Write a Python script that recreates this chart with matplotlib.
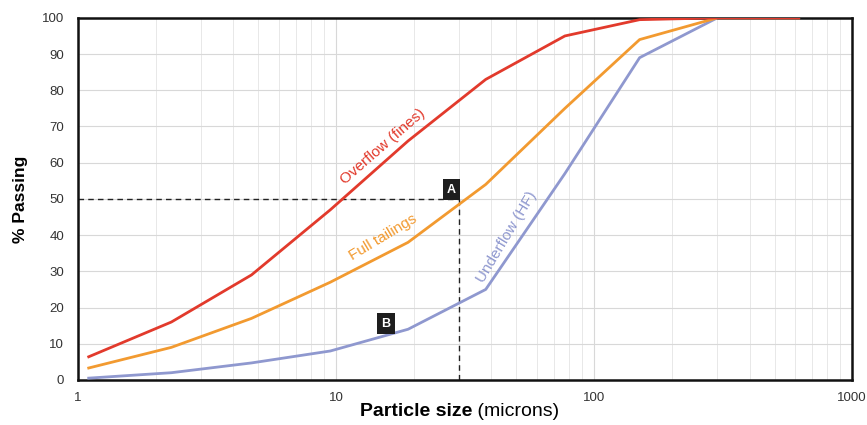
import matplotlib
matplotlib.use("Agg")
import matplotlib.pyplot as plt
from matplotlib.ticker import FixedLocator, NullFormatter, LogLocator

plt.rcParams['font.family'] = ['Liberation Sans', 'DejaVu Sans']

# particle sizes (microns)
sizes = [1.1, 2.3, 4.7, 9.5, 19, 38, 77, 150, 300, 620]
overflow = [6.4, 16, 29, 47, 66, 83, 95, 99.5, 100, 100]
full_tailings = [3.3, 9, 17, 27, 38, 54, 75, 94, 100, 100]
underflow = [0.5, 2, 4.7, 8, 14, 25, 57, 89, 100, 100]

x_ticks = [1, 10, 100, 1000]
x_tick_labels = ["1", "10", "100", "1000"]
y_ticks = [0, 10, 20, 30, 40, 50, 60, 70, 80, 90, 100]
d50_size = 30
d50_pass = 50

red = "#e23a2c"
orange = "#f29a30"
blue = "#8f98cf"

fig = plt.figure(figsize=(8.67, 4.25), dpi=100)
ax = fig.add_axes([0.090, 0.106, 0.893, 0.852])
ax.set_xscale("log")
ax.set_xlim(1, 1000)
ax.set_ylim(0, 100)

ax.xaxis.set_major_locator(FixedLocator(x_ticks))
ax.xaxis.set_minor_locator(LogLocator(base=10, subs=range(2, 10)))
ax.xaxis.set_minor_formatter(NullFormatter())
ax.set_xticklabels(x_tick_labels)
ax.set_yticks(y_ticks)
ax.grid(True, which="major", color="#d8d8d8", lw=0.8)
ax.grid(True, which="minor", axis="x", color="#e8e8e8", lw=0.7)
ax.tick_params(which="both", length=0, colors="#333333", labelsize=9.5)
ax.tick_params(axis="x", pad=9)
ax.tick_params(axis="y", pad=10)
for s in ax.spines.values():
    s.set_linewidth(1.8)
    s.set_color("#111111")

ax.plot(sizes, underflow, color=blue, lw=2, zorder=3)
ax.plot(sizes, full_tailings, color=orange, lw=2, zorder=4)
ax.plot(sizes, overflow, color=red, lw=2, zorder=5)

ax.plot([1, d50_size], [d50_pass, d50_pass], ls=(0, (4, 3)), color="#222222", lw=1, zorder=2)
ax.plot([d50_size, d50_size], [0, d50_pass], ls=(0, (4, 3)), color="#222222", lw=1, zorder=2)

ax.text(15.2, 64.5, "Overflow (fines)", color=red, rotation=41, fontsize=11,
        ha="center", va="center", zorder=6)
ax.text(15.2, 39.5, "Full tailings", color=orange, rotation=31, fontsize=11,
        ha="center", va="center", zorder=6)
ax.text(46, 39.5, "Underflow (HF)", color=blue, rotation=59, fontsize=11,
        ha="center", va="center", zorder=6)

for lbl, x, y in [("A", 28, 52.5), ("B", 15.6, 15.5)]:
    ax.text(x, y, lbl, color="white", fontsize=9, fontweight="bold", ha="center", va="center",
            bbox=dict(boxstyle="square,pad=0.35", fc="#1e1e1e", ec="none"), zorder=7)

ax.set_ylabel("% Passing", fontsize=12.5, fontweight="bold", labelpad=10)
t1 = fig.text(0.415, 0.012, "Particle size", fontsize=14, fontweight="bold",
              ha="left", va="bottom")
ax.annotate(" (microns)", xy=(1, 0), xycoords=t1, va="bottom", ha="left", fontsize=14)
fig.savefig("out.png", dpi=100, facecolor="white")
